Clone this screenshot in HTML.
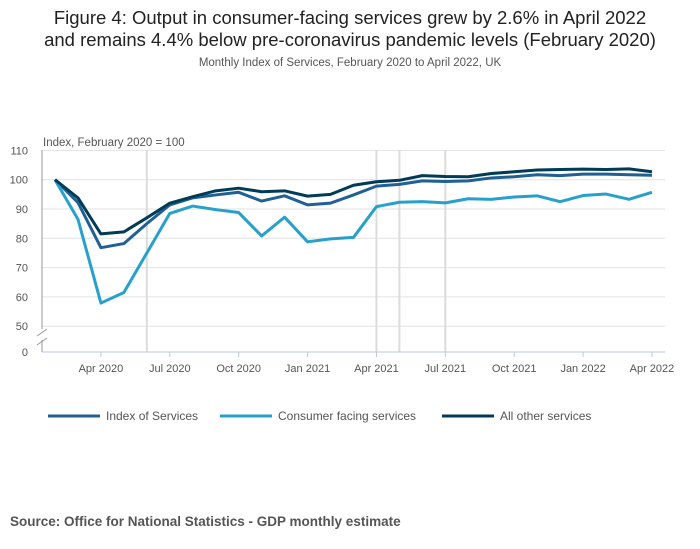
<!DOCTYPE html>
<html><head><meta charset="utf-8"><style>
body{margin:0;background:#fff;font-family:"Liberation Sans",sans-serif;}
#wrap{position:relative;width:700px;height:549px;overflow:hidden;}
.t{position:absolute;text-align:center;width:700px;left:0;}
</style></head><body>
<div id="wrap">
<div class="t" style="top:7px;font-size:18.5px;line-height:22px;color:#222">Figure 4: Output in consumer-facing services grew by 2.6% in April 2022<br>and remains 4.4% below pre-coronavirus pandemic levels (February 2020)</div>
<div class="t" style="top:57px;font-size:11.5px;color:#555">Monthly Index of Services, February 2020 to April 2022, UK</div>
<svg id="svg" width="700" height="549" style="position:absolute;left:0;top:0"></svg>
<div style="position:absolute;left:10px;top:514px;font-size:13.5px;font-weight:bold;color:#555">Source: Office for National Statistics - GDP monthly estimate</div>
</div>
<script>
const months=["Feb 2020","Mar 2020","Apr 2020","May 2020","Jun 2020","Jul 2020","Aug 2020","Sep 2020","Oct 2020","Nov 2020","Dec 2020","Jan 2021","Feb 2021","Mar 2021","Apr 2021","May 2021","Jun 2021","Jul 2021","Aug 2021","Sep 2021","Oct 2021","Nov 2021","Dec 2021","Jan 2022","Feb 2022","Mar 2022","Apr 2022"];
const indexServices=[100,92.2,76.8,78.2,85,91.4,93.8,94.8,95.7,92.7,94.5,91.4,92,94.8,97.8,98.4,99.6,99.4,99.6,100.6,101,101.7,101.4,101.9,101.9,101.7,101.5];
const consumerFacing=[100,86.5,57.9,61.5,75,88.5,91,89.8,88.8,80.8,87.2,78.8,79.8,80.3,90.8,92.3,92.5,92.1,93.5,93.3,94.1,94.5,92.5,94.6,95.1,93.3,95.7];
const allOther=[100,93.8,81.5,82.2,87,92,94.2,96.2,97.1,95.9,96.2,94.4,95,98.1,99.3,99.8,101.4,101.1,101,102.1,102.7,103.3,103.5,103.6,103.5,103.7,102.7];
const yTicks=[50,60,70,80,90,100,110];
const xTickLabels=["Apr 2020","Jul 2020","Oct 2020","Jan 2021","Apr 2021","Jul 2021","Oct 2021","Jan 2022","Apr 2022"];
const markerMonths=["Jun 2020","Apr 2021","May 2021","Jul 2021"];
const series=[{name:"Index of Services",data:indexServices,color:"#206095"},{name:"Consumer facing services",data:consumerFacing,color:"#27a0cc"},{name:"All other services",data:allOther,color:"#003c57"}];
const svg=document.getElementById('svg');const NS="http://www.w3.org/2000/svg";
function x(m){return 55+months.indexOf(m)*22.96;}
function y(v){return 179.7-(v-100)*2.93;}
function el(t,a,p){const e=document.createElementNS(NS,t);for(const k in a)e.setAttribute(k,a[k]);(p||svg).appendChild(e);return e;}
function txt(s,a){const e=el('text',a);e.textContent=s;return e;}
yTicks.forEach(v=>{const g=el('line',{x1:42,x2:665,y1:y(v),y2:y(v),stroke:'#e2e2e3'});


const t=txt(v,{x:28,y:y(v)+4,'font-size':11,fill:'#555','text-anchor':'end'});

});
const z=txt('0',{x:28,y:356,'font-size':11,fill:'#555','text-anchor':'end'});


markerMonths.forEach(m=>{const l=el('line',{x1:x(m),x2:x(m),y1:150,y2:352,stroke:'#dcdcdc','stroke-width':2});

});
el('line',{x1:42,x2:42,y1:150,y2:329,stroke:'#999'});el('line',{x1:42,x2:42,y1:340,y2:352,stroke:'#999'});
el('line',{x1:37,x2:47,y1:336,y2:329,stroke:'#999'});el('line',{x1:37,x2:47,y1:345,y2:338,stroke:'#999'});
el('line',{x1:42,x2:665,y1:352,y2:352,stroke:'#bcc8dc'});
xTickLabels.forEach(m=>{el('line',{x1:x(m),x2:x(m),y1:352,y2:357,stroke:'#bcc8dc'});
const t=txt(m,{x:x(m),y:372,'font-size':11,fill:'#555','text-anchor':'middle'});

});
const at=txt('Index, February 2020 = 100',{x:43,y:146,'font-size':11.5,fill:'#555'});


const lx=[48,220,442];
series.forEach((s,i)=>{const p=el('polyline',{points:s.data.map((v,j)=>x(months[j])+','+y(v)).join(' '),fill:'none',stroke:s.color,'stroke-width':3,'stroke-linejoin':'round'});


const ll=el('line',{x1:lx[i],x2:lx[i]+52,y1:416,y2:416,stroke:s.color,'stroke-width':3});


const t=txt(s.name,{x:lx[i]+58,y:420,'font-size':12,fill:'#555'});

});
</script>
</body></html>
